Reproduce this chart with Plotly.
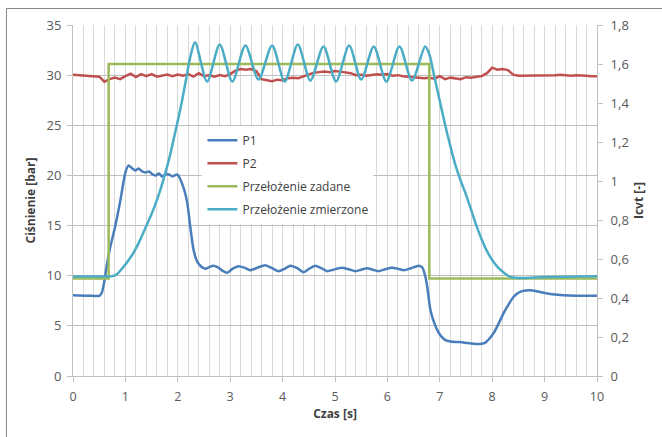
import numpy as np
import plotly.graph_objects as go

# ---- data ----
t_p1 = [0.0, 0.3, 0.5, 0.55, 0.6, 0.65, 0.7, 0.8, 0.9, 1.0, 1.06, 1.13, 1.19, 1.25, 1.32, 1.39, 1.45,
        1.52, 1.58, 1.64, 1.7, 1.77, 1.83, 1.9, 1.99, 2.05, 2.12, 2.18, 2.24, 2.3, 2.37, 2.44, 2.52,
        2.6, 2.67, 2.76, 2.85, 2.94, 3.05, 3.16, 3.27, 3.38, 3.52, 3.67, 3.8, 3.92, 4.04, 4.15, 4.28,
        4.4, 4.51, 4.62, 4.74, 4.85, 4.97, 5.13, 5.26, 5.39, 5.5, 5.61, 5.72, 5.83, 5.96, 6.09, 6.2,
        6.31, 6.45, 6.6, 6.67, 6.72, 6.76, 6.82, 6.88, 6.95, 7.02, 7.1, 7.2, 7.45, 7.6, 7.77, 7.86,
        7.95, 8.03, 8.12, 8.22, 8.32, 8.41, 8.5, 8.6, 8.73, 8.85, 8.98, 9.15, 9.36, 9.6, 10.0]
p1 = [8.05, 8.0, 8.0, 8.3, 9.5, 11.2, 12.6, 14.8, 17.4, 20.3, 21.0, 20.7, 20.5, 20.7, 20.4, 20.3, 20.4,
      20.1, 20.0, 20.2, 19.9, 20.1, 20.1, 19.9, 20.1, 19.6, 18.6, 17.3, 14.8, 12.6, 11.4, 10.95, 10.7,
      10.85, 11.0, 10.85, 10.5, 10.3, 10.7, 10.95, 10.8, 10.55, 10.8, 11.05, 10.75, 10.45, 10.7, 11.0, 10.75,
      10.35, 10.7, 11.0, 10.75, 10.45, 10.6, 10.8, 10.65, 10.45, 10.6, 10.75, 10.6, 10.45, 10.65, 10.8, 10.7,
      10.55, 10.75, 11.0, 10.8, 10.0, 8.9, 6.6, 5.5, 4.6, 4.0, 3.6, 3.45, 3.35, 3.25, 3.2, 3.3,
      3.75, 4.3, 5.2, 6.3, 7.2, 7.9, 8.3, 8.5, 8.55, 8.45, 8.3, 8.15, 8.05, 8.0, 8.0]

t_p2 = list(np.round(np.arange(0, 10.001, 0.1), 1))
p2 = [30.05, 30.0, 30.0, 29.95, 29.9, 29.85, 29.35, 29.6, 29.75, 29.6,
      29.9, 30.15, 29.8, 30.1, 29.9, 30.1, 29.85, 29.95, 30.05, 29.9,
      30.05, 29.95, 30.1, 29.85, 30.2, 29.9, 30.0, 29.85, 30.0, 29.9,
      30.1, 30.45, 30.6, 30.55, 30.6, 30.4, 29.6, 29.5, 29.4, 29.55,
      29.5, 29.7, 29.75, 29.7, 29.9, 30.1, 30.25, 30.3, 30.35, 30.3,
      30.4, 30.35, 30.3, 30.2, 30.0, 30.05, 29.95, 30.05, 30.1, 30.05,
      30.1, 29.95, 30.0, 29.9, 29.85, 29.8, 29.75, 29.7, 29.75, 29.65,
      29.9, 29.6, 29.75, 29.7, 29.6, 29.8, 29.75, 29.85, 29.9, 30.2,
      30.75, 30.55, 30.6, 30.5, 30.05, 29.95, 29.95, 30.0, 29.95, 30.0,
      29.95, 30.0, 30.0, 30.05, 30.0, 29.95, 30.0, 30.0, 29.95, 29.9, 29.9]

t_zad = [0.0, 0.68, 6.8, 10.0]
zadane = [0.5, 1.6, 0.5, 0.5]

t_zm = [0.0, 0.6, 0.75, 0.85, 0.95, 1.05, 1.15, 1.25, 1.35, 1.45, 1.55, 1.65, 1.75, 1.85, 1.95,
        2.05, 2.15, 2.25, 2.33, 2.56, 2.80, 3.04, 3.29, 3.54, 3.80, 4.04, 4.29, 4.53, 4.78, 5.02,
        5.27, 5.50, 5.74, 5.98, 6.23, 6.47, 6.72, 6.8, 6.9, 7.0, 7.1, 7.2, 7.3, 7.4, 7.5, 7.6,
        7.7, 7.8, 7.9, 8.0, 8.1, 8.2, 8.3, 8.4, 8.6, 9.0, 10.0]
zmierzone = [0.51, 0.51, 0.512, 0.525, 0.555, 0.59, 0.63, 0.68, 0.74, 0.80, 0.865, 0.94, 1.03, 1.13, 1.25,
             1.37, 1.51, 1.65, 1.712, 1.51, 1.70, 1.51, 1.695, 1.52, 1.695, 1.51, 1.70, 1.515, 1.69, 1.51,
             1.695, 1.52, 1.69, 1.51, 1.69, 1.515, 1.69, 1.65, 1.53, 1.41, 1.29, 1.18, 1.08, 1.0, 0.93, 0.85,
             0.77, 0.70, 0.64, 0.595, 0.56, 0.535, 0.515, 0.505, 0.503, 0.508, 0.512]

x_ticks = list(range(0, 11))
y_left_ticks = [0, 5, 10, 15, 20, 25, 30, 35]
y_right_ticks = [0, 0.2, 0.4, 0.6, 0.8, 1.0, 1.2, 1.4, 1.6, 1.8]

# ---- figure ----
FONT = "Open Sans"
TICKC = "#595959"
GRID_H = "#bfbfbf"
GRID_V = "#d9d9d9"

fig = go.Figure()
fig.add_trace(go.Scatter(x=t_p1, y=p1, name="P1", mode="lines", legendgroup="a",
                         line=dict(color="#4A7EBB", width=2.5, shape="spline", smoothing=0.6)))
fig.add_trace(go.Scatter(x=t_p2, y=p2, name="P2", mode="lines", legendgroup="b",
                         line=dict(color="#C0504D", width=2.5)))
fig.add_trace(go.Scatter(x=t_zad, y=zadane, name="Przełożenie zadane", mode="lines", legendgroup="c",
                         yaxis="y2", line=dict(color="#9BBB59", width=2.5, shape="hv")))
fig.add_trace(go.Scatter(x=t_zm, y=zmierzone, name="Przełożenie zmierzone", mode="lines", legendgroup="d",
                         yaxis="y2", line=dict(color="#4BACC6", width=2.5, shape="spline", smoothing=0.8)))

fig.update_layout(
    width=662, height=437,
    margin=dict(l=73, r=65, t=25, b=61, autoexpand=False),
    paper_bgcolor="white", plot_bgcolor="white",
    separators=", ",
    font=dict(family=FONT, size=12, color=TICKC),
    showlegend=True,
    legend=dict(x=0.247, y=0.713, xanchor="left", yanchor="top", bgcolor="white",
                borderwidth=0, font=dict(family=FONT, size=12, color="#404040"),
                tracegroupgap=4, itemwidth=30),
    xaxis=dict(range=[0, 10], tickvals=x_ticks, showgrid=True, gridcolor=GRID_V, gridwidth=1,
               minor=dict(dtick=0.2, showgrid=True, gridcolor=GRID_V, gridwidth=1),
               showline=True, linecolor=GRID_H, linewidth=1, ticks="outside", ticklen=5,
               tickcolor=GRID_H, zeroline=False, tickfont=dict(size=12.5, color=TICKC),
               ticklabelstandoff=4, automargin=False,
               title=dict(text="Czas [s]", font=dict(size=12, color="#404040", weight="bold"),
                          standoff=5)),
    yaxis=dict(range=[0, 35], tickvals=y_left_ticks, showgrid=True, gridcolor=GRID_H, gridwidth=1,
               showline=True, linecolor=GRID_H, linewidth=1, ticks="outside", ticklen=5,
               tickcolor=GRID_H, zeroline=False, tickfont=dict(size=13, color=TICKC),
               ticklabelstandoff=3, automargin=False,
               title=dict(text="Ciśnienie [bar]", font=dict(size=12, color="#404040", weight="bold"),
                          standoff=8)),
    yaxis2=dict(range=[0, 1.8], tickvals=y_right_ticks, overlaying="y", side="right",
                showgrid=False, showline=True, linecolor=GRID_H, linewidth=1, ticks="outside",
                ticklen=5, tickcolor=GRID_H, zeroline=False, tickfont=dict(size=13, color=TICKC),
                ticklabelstandoff=5, automargin=False,
                title=dict(text="Icvt [-]", font=dict(size=12, color="#404040", weight="bold"),
                           standoff=6)),
)

# outer chart-area border (only its top and left edges are inside the picture)
fig.add_shape(type="rect", xref="paper", yref="paper", x0=-0.127, y0=-0.5, x1=1.5, y1=1.047,
              line=dict(color="#868686", width=1), fillcolor="rgba(0,0,0,0)", layer="above")

fig.write_html("out.html", config={"displayModeBar": False},
               post_script="document.body.style.margin='0';")
